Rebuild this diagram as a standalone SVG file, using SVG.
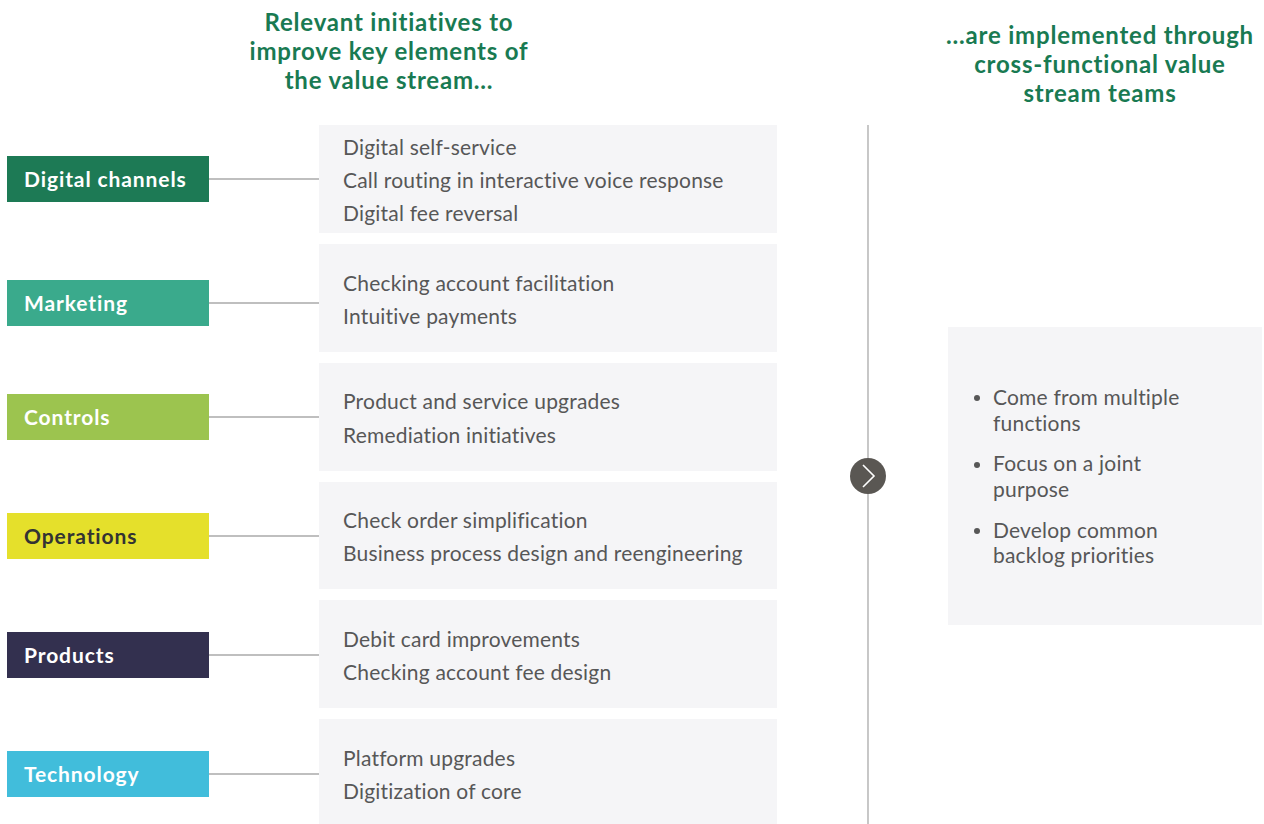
<svg xmlns="http://www.w3.org/2000/svg" width="1264" height="824" viewBox="0 0 1264 824">
<style>
.title{font-family:Lato,"Noto Sans",sans-serif;font-weight:700;font-size:24px;letter-spacing:0.8px;fill:#197a52;text-anchor:middle}
.lab{font-family:Lato,"Noto Sans",sans-serif;font-weight:700;font-size:21px;letter-spacing:0.9px;fill:#fff}
.item{font-family:Lato,"Noto Sans",sans-serif;font-size:21px;letter-spacing:0.2px;fill:#575757}
.panel{fill:#f5f5f7}
.conn{stroke:#aaaaaa;stroke-width:1.3;fill:none}
</style>
<rect width="1264" height="824" fill="#fff"/>
<g id="titles">
<text class="title" x="389" y="31">Relevant initiatives to</text>
<text class="title" x="389" y="60">improve key elements of</text>
<text class="title" x="389" y="89">the value stream...</text>
<text class="title" x="1100" y="44">...are implemented through</text>
<text class="title" x="1100" y="73">cross-functional value</text>
<text class="title" x="1100" y="102">stream teams</text>
</g>
<g id="connectors">
<line class="conn" x1="209" y1="179" x2="319" y2="179"/>
<line class="conn" x1="209" y1="303" x2="319" y2="303"/>
<line class="conn" x1="209" y1="417" x2="319" y2="417"/>
<line class="conn" x1="209" y1="536" x2="319" y2="536"/>
<line class="conn" x1="209" y1="655" x2="319" y2="655"/>
<line class="conn" x1="209" y1="774" x2="319" y2="774"/>
<line class="conn" x1="868" y1="125" x2="868" y2="824"/>
</g>
<g id="digital-channels">
<rect x="7" y="156" width="202" height="46" fill="#1d7a55"/>
<text class="lab" x="24" y="187">Digital channels</text>
</g>
<g id="digital-initiatives">
<rect class="panel" x="319" y="125" width="458" height="108"/>
<text class="item" x="343" y="155">Digital self-service</text>
<text class="item" x="343" y="188">Call routing in interactive voice response</text>
<text class="item" x="343" y="221">Digital fee reversal</text>
</g>
<g id="marketing">
<rect x="7" y="280" width="202" height="46" fill="#3aaa8c"/>
<text class="lab" x="24" y="311">Marketing</text>
</g>
<g id="marketing-initiatives">
<rect class="panel" x="319" y="244" width="458" height="108"/>
<text class="item" x="343" y="291">Checking account facilitation</text>
<text class="item" x="343" y="324">Intuitive payments</text>
</g>
<g id="controls">
<rect x="7" y="394" width="202" height="46" fill="#9cc44f"/>
<text class="lab" x="24" y="425">Controls</text>
</g>
<g id="controls-initiatives">
<rect class="panel" x="319" y="363" width="458" height="108"/>
<text class="item" x="343" y="409">Product and service upgrades</text>
<text class="item" x="343" y="443">Remediation initiatives</text>
</g>
<g id="operations">
<rect x="7" y="513" width="202" height="46" fill="#e5e02b"/>
<text class="lab" x="24" y="544" style="fill:#333">Operations</text>
</g>
<g id="operations-initiatives">
<rect class="panel" x="319" y="482" width="458" height="107"/>
<text class="item" x="343" y="528">Check order simplification</text>
<text class="item" x="343" y="561">Business process design and reengineering</text>
</g>
<g id="products">
<rect x="7" y="632" width="202" height="46" fill="#33304f"/>
<text class="lab" x="24" y="663">Products</text>
</g>
<g id="products-initiatives">
<rect class="panel" x="319" y="600" width="458" height="108"/>
<text class="item" x="343" y="647">Debit card improvements</text>
<text class="item" x="343" y="680">Checking account fee design</text>
</g>
<g id="technology">
<rect x="7" y="751" width="202" height="46" fill="#41bddb"/>
<text class="lab" x="24" y="782">Technology</text>
</g>
<g id="technology-initiatives">
<rect class="panel" x="319" y="719" width="458" height="105"/>
<text class="item" x="343" y="766">Platform upgrades</text>
<text class="item" x="343" y="799">Digitization of core</text>
</g>
<g id="arrow-node">
<circle cx="868" cy="476" r="18" fill="#5a5753"/>
<polyline points="863,465 874,476 863,487" fill="none" stroke="#fff" stroke-width="1.6"/>
</g>
<g id="teams">
<rect class="panel" x="948" y="327" width="314" height="298"/>
<circle cx="977" cy="398" r="3" fill="#575757"/>
<text class="item" x="993" y="405">Come from multiple</text>
<text class="item" x="993" y="431">functions</text>
<circle cx="977" cy="465" r="3" fill="#575757"/>
<text class="item" x="993" y="471">Focus on a joint</text>
<text class="item" x="993" y="497">purpose</text>
<circle cx="977" cy="531" r="3" fill="#575757"/>
<text class="item" x="993" y="538">Develop common</text>
<text class="item" x="993" y="563">backlog priorities</text>
</g>
</svg>
